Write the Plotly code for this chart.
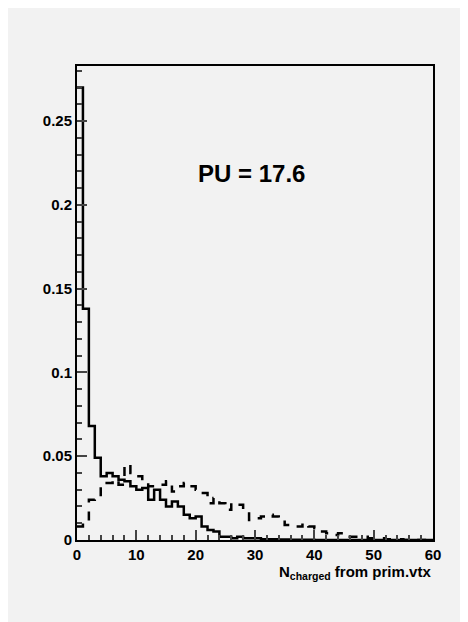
import plotly.graph_objects as go

# bin contents, bins of width 1 from 0 to 60
solid = [0.27, 0.138, 0.068, 0.049, 0.038, 0.040, 0.038, 0.036, 0.035, 0.032,
         0.030, 0.031, 0.024, 0.030, 0.024, 0.020, 0.023, 0.020, 0.015, 0.013,
         0.014, 0.008, 0.006, 0.005, 0.002, 0.002, 0.001, 0.002, 0.001, 0.001,
         0.001, 0.0005, 0.0005, 0.0005, 0.0003, 0.0003, 0.0002, 0.0002, 0.0002, 0.0001] + [0.0] * 20
dashed = [0.008, 0.010, 0.024, 0.025, 0.033, 0.034, 0.036, 0.033, 0.045, 0.040,
          0.038, 0.035, 0.032, 0.032, 0.033, 0.035, 0.029, 0.032, 0.034, 0.032,
          0.030, 0.028, 0.022, 0.025, 0.022, 0.018, 0.022, 0.021, 0.017, 0.012,
          0.013, 0.014, 0.015, 0.014, 0.012, 0.009, 0.009, 0.008, 0.010, 0.008,
          0.007, 0.005, 0.004, 0.003, 0.004, 0.002, 0.002, 0.002, 0.002, 0.001,
          0.001, 0.001, 0.0005, 0.0005, 0.0005, 0.0, 0.0, 0.0, 0.0, 0.0]
edges = list(range(61))
x_ticks = [0, 10, 20, 30, 40, 50, 60]
y_ticks = [0, 0.05, 0.1, 0.15, 0.2, 0.25]
y_labels = ['0', '0.05', '0.1', '0.15', '0.2', '0.25']

fig = go.Figure()
fig.add_trace(go.Scatter(x=edges, y=solid + [solid[-1]], mode='lines', line_shape='hv',
                         line=dict(color='black', width=2.5)))
fig.add_trace(go.Scatter(x=edges, y=dashed + [dashed[-1]], mode='lines', line_shape='hv',
                         line=dict(color='black', width=2.5, dash='dash')))

fig.add_annotation(text='<b>PU = 17.6</b>', x=0.49, y=0.805, xref='paper', yref='paper',
                   showarrow=False, font=dict(size=24, color='black'))
fig.add_annotation(text='<b>N<sub>charged</sub> from prim.vtx</b>', x=1, y=-0.045,
                   xref='paper', yref='paper', xanchor='right', yanchor='top',
                   showarrow=False, font=dict(size=15, color='black'))

fig.update_layout(
    width=468, height=622, showlegend=False,
    paper_bgcolor='#f2f2f2', plot_bgcolor='#f2f2f2',
    margin=dict(l=69, r=43, t=58, b=90),
    font=dict(family='Liberation Sans, Arial', size=15, color='black'),
)
fig.update_xaxes(range=[0, 60], tickvals=x_ticks, ticktext=['<b>%d</b>' % v for v in x_ticks],
                 ticks='inside', ticklen=10, tickwidth=2,
                 minor=dict(dtick=2, ticks='inside', ticklen=5, tickwidth=2),
                 showgrid=False, zeroline=False, showline=True, linewidth=2, linecolor='black',
                 mirror=True, tickfont=dict(size=15))
fig.update_yaxes(range=[0, 0.2828], tickvals=y_ticks, ticktext=['<b>%s</b>' % s for s in y_labels],
                 ticks='inside', ticklen=10, tickwidth=2,
                 minor=dict(dtick=0.01, ticks='inside', ticklen=5, tickwidth=2),
                 showgrid=False, zeroline=False, showline=True, linewidth=2, linecolor='black',
                 mirror=True, tickfont=dict(size=15))

fig.write_html("out.html")
